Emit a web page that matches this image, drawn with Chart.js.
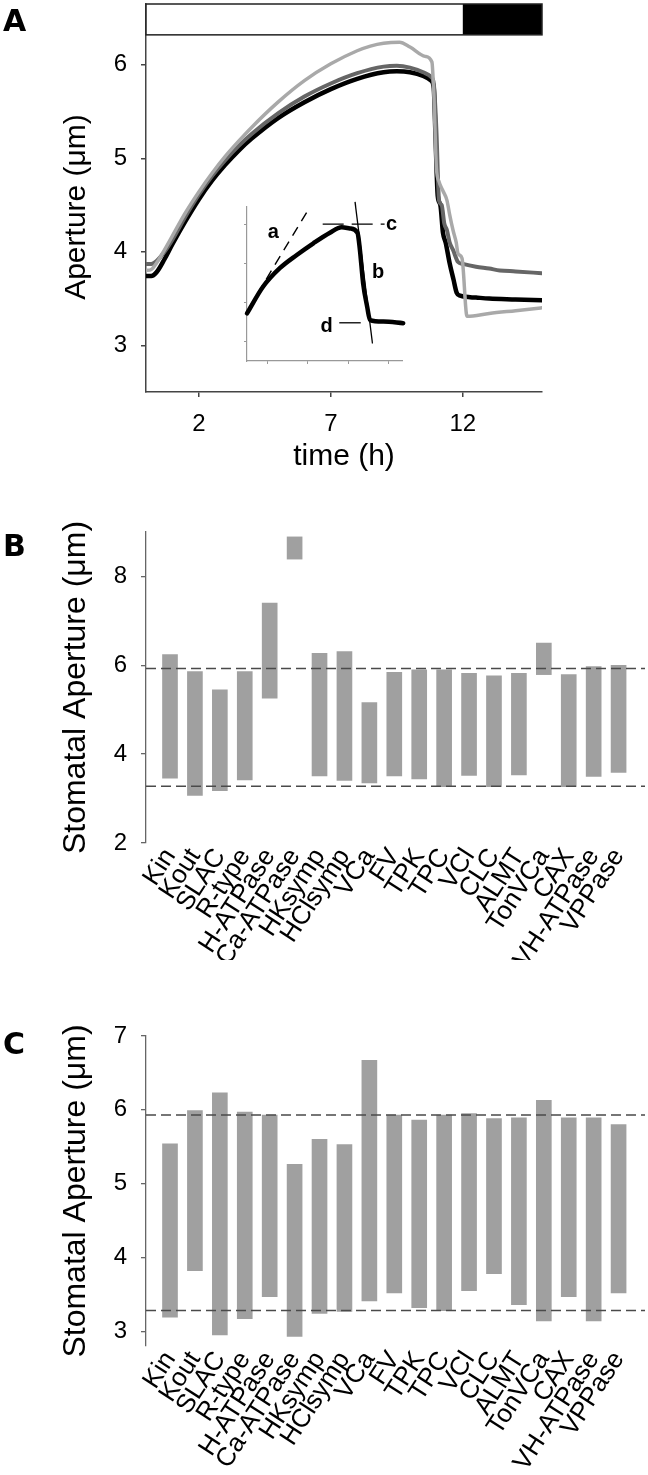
<!DOCTYPE html>
<html>
<head>
<meta charset="utf-8">
<script src="https://cdn.jsdelivr.net/npm/chart.js@4.4.1/dist/chart.umd.min.js"></script>
<style>
  body { margin: 0; background: #fff; }
  #page { position: relative; width: 648px; height: 1475px; overflow: hidden; font-family: "Liberation Sans", Arial, sans-serif; }
  .box { position: absolute; left: 0; }
  .letter { position: absolute; left: 3px; font-family: "DejaVu Sans", sans-serif; font-weight: bold; font-size: 30px; line-height: 30px; }
</style>
</head>
<body>
<div id="page">
  <div class="box" style="top:0"><canvas id="chartA" width="648" height="480"></canvas></div>
  <div class="box" style="left:237px;top:197px"><canvas id="inset" width="180" height="175"></canvas></div>
  <div class="box" style="top:500px"><canvas id="chartB" width="648" height="460"></canvas></div>
  <div class="box" style="top:1000px"><canvas id="chartC" width="648" height="475"></canvas></div>
  <div class="letter" style="top:6px">A</div>
  <div class="letter" style="top:531px">B</div>
  <div class="letter" style="top:1029px">C</div>
</div>
<script>
// --------------------
// Panel A data (time in h, aperture in um)
// --------------------
const tBlack = [0, 0.2, 0.4, 0.7, 1, 1.5, 2, 2.5, 3, 3.5, 4, 5, 6, 7, 8, 9, 9.5, 10, 10.5, 10.8, 10.9, 10.97, 11.05, 11.15, 11.25, 11.35, 11.5, 11.65, 11.77, 11.9, 12.5, 13, 14, 15];
const vBlack = [3.74, 3.74, 3.78, 3.92, 4.08, 4.33, 4.56, 4.76, 4.93, 5.08, 5.21, 5.43, 5.60, 5.74, 5.85, 5.92, 5.93, 5.92, 5.88, 5.83, 5.75, 5.2, 4.6, 4.5, 4.2, 4.1, 3.88, 3.7, 3.56, 3.53, 3.51, 3.50, 3.49, 3.48];

const tDark = [0, 0.2, 0.4, 0.7, 1, 1.5, 2, 2.5, 3, 3.5, 4, 5, 6, 7, 8, 9, 9.5, 10, 10.5, 10.8, 10.9, 11.0, 11.1, 11.2, 11.3, 11.4, 11.5, 11.63, 11.82, 12, 12.5, 13, 13.4, 14, 15];
const vDark = [3.87, 3.87, 3.9, 4.0, 4.13, 4.38, 4.61, 4.81, 4.98, 5.13, 5.26, 5.48, 5.66, 5.80, 5.91, 5.98, 5.99, 5.97, 5.92, 5.87, 5.8, 5.3, 4.55, 4.5, 4.3, 4.23, 4.1, 4.02, 3.89, 3.87, 3.84, 3.82, 3.80, 3.79, 3.77];

const tLight = [0, 0.2, 0.4, 0.7, 1, 1.5, 2, 2.5, 3, 3.5, 4, 5, 6, 7, 8, 8.5, 9, 9.6, 10, 10.57, 10.83, 10.9, 11.0, 11.1, 11.25, 11.4, 11.5, 11.63, 11.75, 11.82, 11.97, 12.16, 13, 14, 15];
const vLight = [3.80, 3.81, 3.88, 4.02, 4.17, 4.42, 4.64, 4.84, 5.02, 5.18, 5.33, 5.60, 5.83, 6.01, 6.15, 6.20, 6.23, 6.24, 6.19, 6.09, 6.03, 5.7, 4.9, 4.75, 4.65, 4.55, 4.4, 4.23, 4.1, 3.98, 3.93, 3.31, 3.34, 3.37, 3.40];

const timeTicks = [2, 7, 12];
const apertureTicks = [3, 4, 5, 6];

// light / dark bar above the traces
const lightPhase = [0, 12];
const darkPhase = [12, 15];
const phaseBand = [6.32, 6.65];

// --------------------
// Inset schematic (arbitrary units)
// --------------------
const insetCurveX = [0, 0.4, 0.81, 1.23, 1.64, 2.05, 2.34, 2.54, 2.73, 2.79, 2.87, 2.97, 3.04, 3.37, 3.86];
const insetCurveY = [1.22, 1.91, 2.38, 2.72, 3.02, 3.29, 3.43, 3.40, 3.29, 2.85, 1.99, 1.39, 1.05, 1.01, 0.97];
const lineAX = [0.04, 1.56], lineAY = [1.35, 3.96];
const lineBX = [2.67, 3.10], lineBY = [4.08, 0.45];
const lineCX = [1.87, 3.40], lineCY = [3.51, 3.51];
const lineDX = [2.28, 2.81], lineDY = [0.98, 0.98];
const insetLetters = ["a", "b", "c", "d"];
const insetLetterX = [0.65, 3.24, 3.57, 1.97];
const insetLetterY = [3.30, 2.26, 3.51, 0.88];
const insetTicks = [0.5, 1.5, 2.5, 3.5];

// --------------------
// Panels B and C data
// --------------------
const transporters = ["Kin", "Kout", "SLAC", "R-type", "H-ATPase", "Ca-ATPase", "HKsymp", "HClsymp", "VCa", "FV",
  "TPK", "TPC", "VCl", "CLC", "ALMT", "TonVCa", "CAX", "VH-ATPase", "VPPase"];

const lowB  = [3.46, 3.07, 3.18, 3.42, 5.26, 8.39, 3.51, 3.41, 3.35, 3.51, 3.44, 3.27, 3.52, 3.27, 3.53, 5.79, 3.27, 3.50, 3.59];
const highB = [6.24, 5.86, 5.45, 5.86, 7.40, 8.89, 6.27, 6.31, 5.16, 5.84, 5.90, 5.90, 5.82, 5.76, 5.82, 6.50, 5.79, 5.97, 6.00];

const lowC  = [3.19, 3.82, 2.95, 3.17, 3.47, 2.93, 3.24, 3.27, 3.41, 3.52, 3.32, 3.28, 3.55, 3.78, 3.36, 3.14, 3.47, 3.14, 3.52];
const highC = [5.54, 5.99, 6.23, 5.97, 5.93, 5.26, 5.60, 5.53, 6.67, 5.93, 5.86, 5.93, 5.95, 5.88, 5.89, 6.13, 5.89, 5.89, 5.80];

// wild-type open / closed apertures (dashed lines)
const refLevels = [5.93, 3.28];

const ticksB = [2, 4, 6, 8];
const ticksC = [3, 4, 5, 6, 7];
const catMin = 0.037, catMax = 20.06;

// --------------------
// Shared settings
// --------------------
const FONT = "'Liberation Sans', Arial, sans-serif";
Chart.defaults.font.family = FONT;
Chart.defaults.color = "#000";
Chart.defaults.animation = false;
Chart.defaults.plugins.legend.display = false;
Chart.defaults.plugins.tooltip.enabled = false;

const toXY = (xs, ys) => xs.map((x, i) => ({ x: x, y: ys[i] }));

// fix axis box sizes so plot areas line up with the figure
function fixWidth(w) {
  return (s) => { s.width = w; s.paddingTop = 0; s.paddingBottom = 0; };
}
function fixHeight(h) {
  return (s) => { s.height = h; s.paddingLeft = 0; s.paddingRight = 0; };
}
function setTicks(vals) {
  return (s) => { s.ticks = vals.map(v => ({ value: v })); };
}

// --------------------
// Panel A
// --------------------
const phaseBar = {
  id: "phaseBar",
  beforeDatasetsDraw(chart) {
    const { ctx, scales: { x, y } } = chart;
    const top = y.getPixelForValue(phaseBand[1]);
    const bot = y.getPixelForValue(phaseBand[0]);
    const x0 = x.getPixelForValue(lightPhase[0]);
    const x1 = x.getPixelForValue(lightPhase[1]);
    const x2 = x.getPixelForValue(darkPhase[1]);
    ctx.save();
    ctx.fillStyle = "#fff";
    ctx.fillRect(x0, top, x1 - x0, bot - top);
    ctx.fillStyle = "#000";
    ctx.fillRect(x1, top, x2 - x1, bot - top);
    ctx.strokeStyle = "#222";
    ctx.lineWidth = 1.5;
    ctx.strokeRect(x0, top, x2 - x0, bot - top);
    ctx.restore();
  }
};

// y title of panel A sits a little below the middle of the axis in the figure
const apertureTitle = {
  id: "apertureTitle",
  afterDraw(chart) {
    const ctx = chart.ctx;
    ctx.save();
    ctx.translate(77, 207);
    ctx.rotate(-Math.PI / 2);
    ctx.font = "30px " + FONT;
    ctx.fillStyle = "#000";
    ctx.textAlign = "center";
    ctx.textBaseline = "middle";
    ctx.fillText("Aperture (μm)", 0, 0);
    ctx.restore();
  }
};

function traceSet(xs, ys, color, width) {
  return {
    data: toXY(xs, ys),
    borderColor: color,
    borderWidth: width,
    pointRadius: 0,
    cubicInterpolationMode: "monotone",
    borderJoinStyle: "round",
    borderCapStyle: "round"
  };
}

new Chart(document.getElementById("chartA"), {
  type: "line",
  data: {
    datasets: [
      traceSet(tLight, vLight, "#a9a9a9", 3.5),
      traceSet(tDark, vDark, "#666666", 4),
      traceSet(tBlack, vBlack, "#000000", 4.5)
    ]
  },
  options: {
    responsive: false,
    layout: { padding: { top: 4, right: 106, left: 0, bottom: 0 } },
    scales: {
      x: {
        type: "linear", min: 0, max: 15,
        afterBuildTicks: setTicks(timeTicks),
        afterFit: fixHeight(88),
        grid: { drawOnChartArea: false, tickLength: 5, color: "#444", lineWidth: 1.5 },
        border: { color: "#444", width: 1.5 },
        ticks: { font: { size: 24 }, padding: 13, maxRotation: 0 },
        title: { display: true, text: "time (h)", font: { size: 30 }, padding: { top: 0, bottom: 5 } }
      },
      y: {
        min: 2.5, max: 6.65,
        afterBuildTicks: setTicks(apertureTicks),
        afterFit: fixWidth(146),
        grid: { drawOnChartArea: false, tickLength: 5, color: "#444", lineWidth: 1.5 },
        border: { color: "#444", width: 1.5 },
        ticks: { font: { size: 24 }, padding: 14 },
        title: { display: false }
      }
    }
  },
  plugins: [phaseBar, apertureTitle]
});

// --------------------
// Inset
// --------------------
const insetText = {
  id: "insetText",
  afterDatasetsDraw(chart) {
    const { ctx, scales: { x, y } } = chart;
    ctx.save();
    ctx.font = "bold 20px " + FONT;
    ctx.fillStyle = "#000";
    ctx.textAlign = "center";
    ctx.textBaseline = "middle";
    insetLetters.forEach((l, i) => {
      ctx.fillText(l, x.getPixelForValue(insetLetterX[i]), y.getPixelForValue(insetLetterY[i]));
    });
    ctx.restore();
  }
};

function guide(xs, ys, dash, width) {
  return {
    data: toXY(xs, ys),
    borderColor: "#000",
    borderWidth: width,
    borderDash: dash,
    pointRadius: 0,
    clip: false
  };
}

new Chart(document.getElementById("inset"), {
  type: "line",
  data: {
    datasets: [
      Object.assign(guide(insetCurveX, insetCurveY, [], 4.5), { cubicInterpolationMode: "monotone", borderJoinStyle: "round", borderCapStyle: "round" }),
      guide(lineAX, lineAY, [10, 7], 1.4),
      guide(lineBX, lineBY, [], 1.3),
      guide(lineCX, lineCY, [21, 8], 1.3),
      guide(lineDX, lineDY, [], 1.3)
    ]
  },
  options: {
    responsive: false,
    layout: { padding: { top: 10, right: 15, left: 0, bottom: 0 } },
    scales: {
      x: {
        type: "linear", min: 0, max: 3.83,
        afterBuildTicks: setTicks(insetTicks),
        afterFit: fixHeight(11),
        grid: { drawOnChartArea: false, tickLength: 3, color: "#999" },
        border: { color: "#999", width: 1.2 },
        ticks: { display: false }
      },
      y: {
        min: 0, max: 3.95,
        afterBuildTicks: setTicks(insetTicks),
        afterFit: fixWidth(10),
        grid: { drawOnChartArea: false, tickLength: 3, color: "#999" },
        border: { color: "#999", width: 1.2 },
        ticks: { display: false }
      }
    }
  },
  plugins: [insetText]
});

// --------------------
// Panels B and C
// --------------------
function rangeChart(id, lows, highs, yMin, yMax, yTicks, padTop, axisHeight) {
  const bars = transporters.map((name, i) => ({ x: i + 1, y: [lows[i], highs[i]] }));
  const refSets = refLevels.map(level => ({
    type: "line",
    data: [{ x: catMin, y: level }, { x: catMax, y: level }],
    borderColor: "#4a4a4a",
    borderWidth: 1.5,
    borderDash: [10, 5],
    pointRadius: 0,
    order: 0
  }));
  return new Chart(document.getElementById(id), {
    type: "bar",
    data: {
      datasets: [
        {
          data: bars,
          backgroundColor: "#a0a0a0",
          borderWidth: 0,
          barThickness: 15,
          borderSkipped: false,
          order: 1
        },
        ...refSets
      ]
    },
    options: {
      responsive: false,
      layout: { padding: { top: padTop, right: 3, left: 0, bottom: 0 } },
      scales: {
        x: {
          type: "linear", min: catMin, max: catMax, offset: false,
          afterBuildTicks: setTicks(transporters.map((n, i) => i + 1)),
          afterFit: fixHeight(axisHeight),
          grid: { display: false, drawTicks: false },
          border: { display: false },
          ticks: {
            autoSkip: false, minRotation: 57, maxRotation: 57, padding: 0,
            font: { size: 26 },
            callback: (v) => transporters[v - 1] ?? ""
          }
        },
        y: {
          min: yMin, max: yMax,
          afterBuildTicks: setTicks(yTicks),
          afterFit: fixWidth(146),
          grid: { drawOnChartArea: false, tickLength: 5, color: "#666", lineWidth: 1.3 },
          border: { color: "#666", width: 1.3 },
          ticks: { font: { size: 24 }, padding: 14 },
          title: { display: true, text: "Stomatal Aperture (μm)", font: { size: 32 }, padding: { top: 57, bottom: 0 } }
        }
      }
    }
  });
}

rangeChart("chartB", lowB, highB, 2, 9, ticksB, 32, 117);
rangeChart("chartC", lowC, highC, 2.8, 7, ticksC, 36, 129);
</script>
</body>
</html>
